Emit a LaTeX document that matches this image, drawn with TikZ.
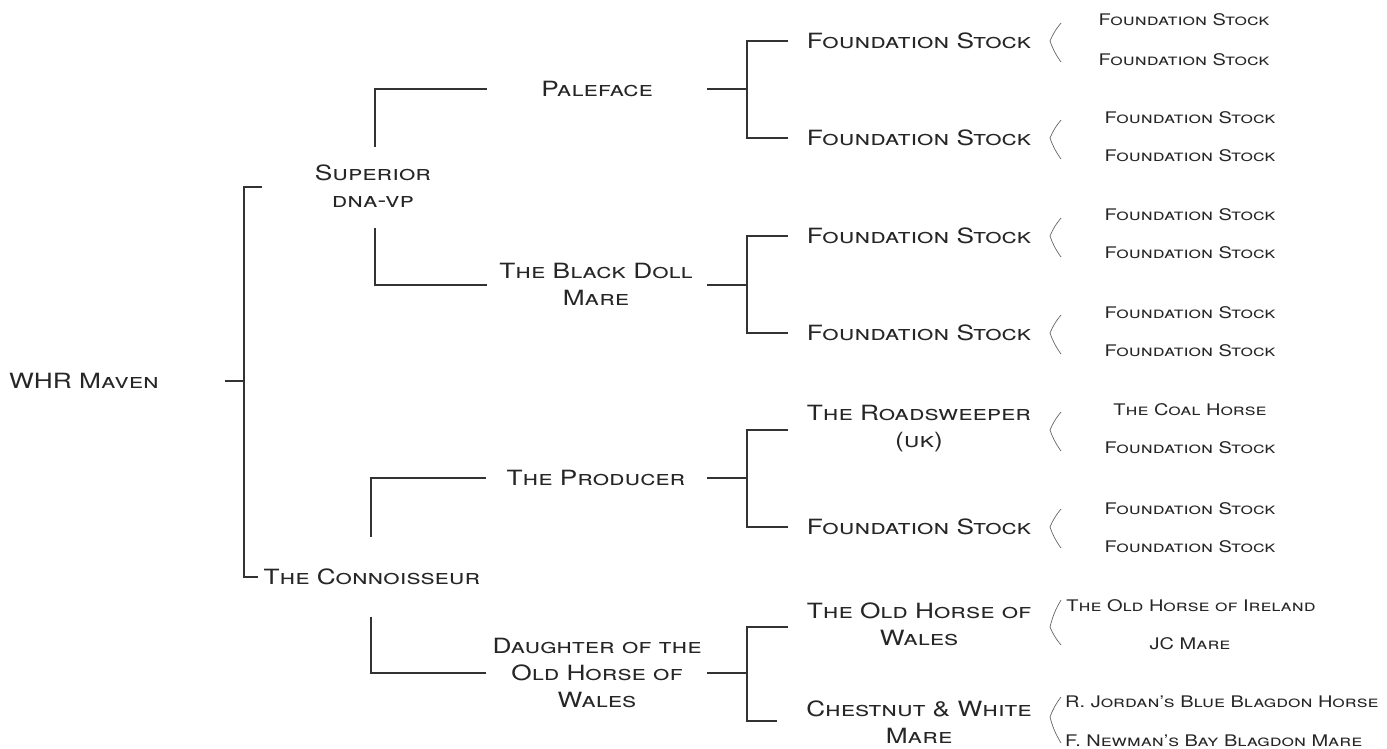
\documentclass[tikz,border=0pt]{standalone}
\usepackage{fontspec}
\setmainfont{TeX Gyre Heros}[FakeStretch=1.25]
\begin{document}
\begin{tikzpicture}[x=1pt,y=-1pt,
  big/.style={font=\fontsize{21}{27}\selectfont\scshape, align=center, inner sep=0pt, text=black!85},
  small/.style={font=\fontsize{16}{20}\selectfont\scshape, align=center, inner sep=0pt, text=black!85},
  ln/.style={line width=1.3pt, draw=black!80},
  brk/.style={line width=0.7pt, draw=black!60}]
\useasboundingbox (0,0) rectangle (1387,749);
% level 1
\node[big] (root) at (84,381) {WHR Maven};
% level 2
\node[big] (sup) at (373,186) {Superior\\dna-vp};
\node[big] (con) at (372,577) {The Connoisseur};
% level 3
\node[big] (pal) at (597,89) {Paleface};
\node[big] (bdm) at (596,284) {The Black Doll\\Mare};
\node[big] (pro) at (596,478) {The Producer};
\node[big] (dau) at (597,673) {Daughter of the\\Old Horse of\\Wales};
% level 4
\node[big] (m1) at (919,41) {Foundation Stock};
\node[big] (m2) at (919,138) {Foundation Stock};
\node[big] (m3) at (919,236) {Foundation Stock};
\node[big] (m4) at (919,333) {Foundation Stock};
\node[big] (m5) at (919,429) {The Roadsweeper\\(uk)};
\node[big] (m6) at (919,527) {Foundation Stock};
\node[big] (m7) at (919,624) {The Old Horse of\\Wales};
\node[big] (m8) at (919,722) {Chestnut \& White\\Mare};
% level 5
\node[small] (r1a) at (1184,20) {Foundation Stock};
\node[small] (r1b) at (1184,60) {Foundation Stock};
\node[small] (r2a) at (1190,118) {Foundation Stock};
\node[small] (r2b) at (1190,156) {Foundation Stock};
\node[small] (r3a) at (1190,215) {Foundation Stock};
\node[small] (r3b) at (1190,253) {Foundation Stock};
\node[small] (r4a) at (1190,313) {Foundation Stock};
\node[small] (r4b) at (1190,351) {Foundation Stock};
\node[small] (r5a) at (1190,410) {The Coal Horse};
\node[small] (r5b) at (1190,448) {Foundation Stock};
\node[small] (r6a) at (1190,509) {Foundation Stock};
\node[small] (r6b) at (1190,547) {Foundation Stock};
\node[small] (r7a) at (1191,606) {The Old Horse of Ireland};
\node[small] (r7b) at (1190,644) {JC Mare};
\node[small,anchor=west] (r8a) at (1065,702) {R. Jordan's Blue Blagdon Horse};
\node[small,anchor=west] (r8b) at (1065,741) {F. Newman's Bay Blagdon Mare};
% connectors level 1-2
\coordinate (rootE) at (225,381);
\coordinate (rootJ) at (244,381);
\coordinate (supW) at (262,187);
\coordinate (conW) at (258,577);
\draw[ln] (rootE) -- (rootJ);
\draw[ln] (supW) -- (supW -| rootJ) -- (conW -| rootJ) -- (conW);
% level 2-3
\coordinate (supT) at (375,147);
\coordinate (supB) at (375,228);
\coordinate (palW) at (487,89);
\coordinate (bdmW) at (487,285);
\draw[ln] (supT) -- (supT |- palW) -- (palW);
\draw[ln] (supB) -- (supB |- bdmW) -- (bdmW);
\coordinate (conT) at (371,537);
\coordinate (conB) at (371,617);
\coordinate (proW) at (486,478);
\coordinate (dauW) at (486,673);
\draw[ln] (conT) -- (conT |- proW) -- (proW);
\draw[ln] (conB) -- (conB |- dauW) -- (dauW);
% level 3-4
\foreach \p/\py/\a/\ay/\b/\by/\bx in {pal/89/m1/41/m2/138/788, bdm/285/m3/236/m4/333/788, pro/478/m5/430/m6/527/788, dau/673/m7/627/m8/721/777}{
  \coordinate (\p E) at (707,\py);
  \coordinate (\p J) at (747,\py);
  \coordinate (\a W) at (788,\ay);
  \coordinate (\b W) at (\bx,\by);
  \draw[ln] (\p E) -- (\p J);
  \draw[ln] (\a W) -- (\a W -| \p J) -- (\b W -| \p J) -- (\b W);
}
% level 4-5 angle brackets
\foreach \n/\t/\m/\b in {m1/23/41/62, m2/120/138/159, m3/218/236/257, m4/315/333/354, m5/412/430/451, m6/509/527/548, m7/600/627/645, m8/697/717/743}{
  \coordinate (\n T) at (1061,\t);
  \coordinate (\n M) at (1050,\m);
  \coordinate (\n B) at (1061,\b);
  \draw[brk] (\n T) to[bend right=8] (\n M) to[bend right=8] (\n B);
}
\end{tikzpicture}
\end{document}
